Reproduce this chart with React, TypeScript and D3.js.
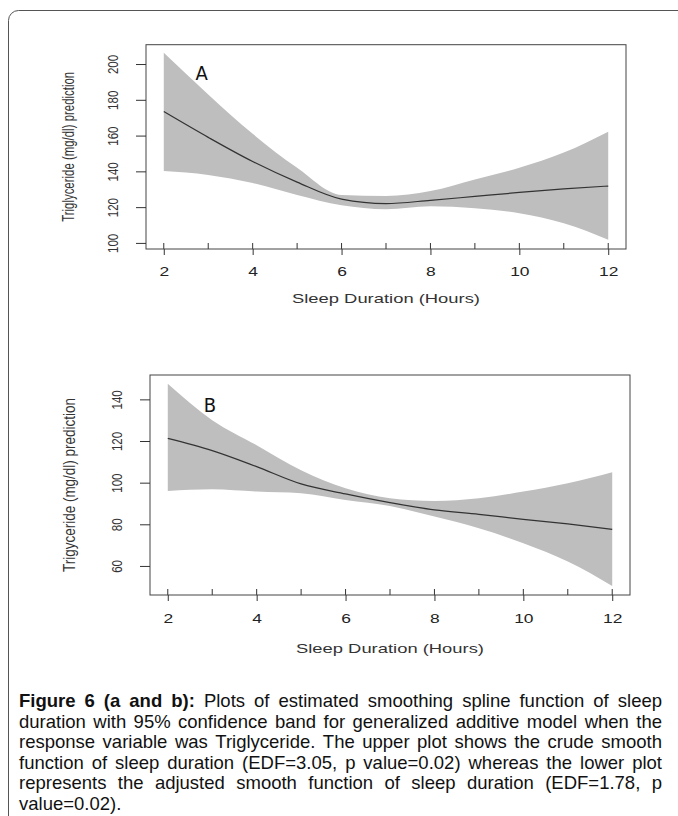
import React, { useEffect, useRef } from "react";
import * as d3 from "d3";

const hours = [2, 3, 4, 5, 6, 7, 8, 9, 10, 11, 12];

// panel A (crude model)
const fitA = [173.4, 159, 145.5, 134, 124.5, 122, 123.8, 126, 128.2, 130.2, 131.8];
const upperA = [206.3, 183, 161, 142, 126.8, 126.2, 129, 135.5, 142, 150.5, 162.2];
const lowerA = [140.2, 138, 133.5, 126.8, 121, 118.8, 120.5, 119.4, 116.6, 111, 101.8];

// panel B (adjusted model)
const fitB = [121.3, 115.4, 107.7, 99.4, 94.6, 90.4, 86.9, 84.8, 82.4, 80.2, 77.6];
const upperB = [147.5, 130, 118, 106, 97.3, 92.5, 91.2, 92.5, 95.7, 99.7, 105];
const lowerB = [96, 96.8, 95.7, 94.9, 91.7, 88.8, 83.7, 78.1, 70.9, 62.1, 50.4];

const xTicks = [2, 4, 6, 8, 10, 12];
const yTicksA = [100, 120, 140, 160, 180, 200];
const yTicksB = [60, 80, 100, 120, 140];

const xTitle = "Sleep Duration (Hours)";
const yTitleA = "Triglyceride (mg/dl) prediction";
const yTitleB = "Trigyceride (mg/dl) prediction";

const captionLines = [
  "Figure 6 (a and b): Plots of estimated smoothing spline function of sleep",
  "duration with 95% confidence band for generalized additive model when the",
  "response variable was Triglyceride. The upper plot shows the crude smooth",
  "function of sleep duration (EDF=3.05, p value=0.02) whereas the lower plot",
  "represents the adjusted smooth function of sleep duration (EDF=1.78, p",
  "value=0.02).",
];
const boldWordCount = 5;

const W = 678;
const H = 816;
const band = "#bebebe";
const ink = "#333";
const sans = "'Liberation Sans', Arial, sans-serif";
const narrow = "'DejaVu Sans Condensed', 'Liberation Sans', sans-serif";
// the plot image in the reference is stretched sideways
const stretch = 1.34;

interface PanelProps {
  id: string;
  box: { left: number; top: number; right: number; bottom: number };
  yDomain: [number, number];
  fit: number[];
  upper: number[];
  lower: number[];
  yTicks: number[];
  yTitle: string;
  yTitleLen: number;
  yTitleX: number;
  letter: string;
  letterAt: [number, number];
  xLabelBase: number;
  xTitleBase: number;
  clipLabels?: number;
}

const Panel: React.FC<PanelProps> = (p) => {
  const ref = useRef<SVGGElement | null>(null);

  useEffect(() => {
    if (!ref.current) return;
    const g = d3.select(ref.current);
    g.selectAll("*").remove();
    const { left, top, right, bottom } = p.box;

    const x = d3.scaleLinear().domain([1.6, 12.4]).range([left, right]);
    const y = d3.scaleLinear().domain(p.yDomain).range([bottom, top]);

    const rows = hours.map((h, i) => ({ h, fit: p.fit[i], lo: p.lower[i], hi: p.upper[i] }));

    const area = d3
      .area<(typeof rows)[number]>()
      .x((d) => x(d.h))
      .y0((d) => y(d.lo))
      .y1((d) => y(d.hi))
      .curve(d3.curveMonotoneX);
    const line = d3
      .line<(typeof rows)[number]>()
      .x((d) => x(d.h))
      .y((d) => y(d.fit))
      .curve(d3.curveMonotoneX);

    g.append("path").attr("d", area(rows)).attr("fill", band);
    g.append("path")
      .attr("d", line(rows))
      .attr("fill", "none")
      .attr("stroke", "#333")
      .attr("stroke-width", 1.2);

    // rug of observed hours
    g.append("g")
      .selectAll("line")
      .data(hours)
      .join("line")
      .attr("x1", (d) => x(d))
      .attr("x2", (d) => x(d))
      .attr("y1", bottom)
      .attr("y2", bottom - 6)
      .attr("stroke", "#333");

    g.append("rect")
      .attr("x", left)
      .attr("y", top)
      .attr("width", right - left)
      .attr("height", bottom - top)
      .attr("fill", "none")
      .attr("stroke", "#444");

    // x axis
    if (p.clipLabels) {
      g.append("clipPath")
        .attr("id", `clip-${p.id}`)
        .append("rect")
        .attr("x", 0)
        .attr("y", 0)
        .attr("width", W)
        .attr("height", p.clipLabels);
    }
    const xa = g
      .append("g")
      .attr("transform", `translate(0,${bottom})`)
      .call(
        d3
          .axisBottom(x)
          .tickValues(xTicks)
          .tickSize(6)
          .tickPadding(p.xLabelBase - bottom - 6 - 9.2)
          .tickFormat(d3.format("d"))
      );
    if (p.clipLabels) xa.attr("clip-path", `url(#clip-${p.id})`);
    xa.select(".domain").remove();
    xa.selectAll("line").attr("stroke", "#333");
    xa.selectAll("text")
      .attr("transform", `scale(${stretch},1)`)
      .attr("fill", "#222")
      .attr("font-family", sans)
      .attr("font-size", 13);

    // y axis, labels parallel to the axis
    const ya = g
      .append("g")
      .attr("transform", `translate(${left},0)`)
      .call(d3.axisLeft(y).tickValues(p.yTicks).tickSize(10).tickFormat(d3.format("d")));
    ya.select(".domain").remove();
    ya.selectAll("line").attr("stroke", "#333");
    ya.selectAll("text")
      .attr("x", null)
      .attr("dy", null)
      .attr("transform", `translate(-28,0) rotate(-90) scale(1,${stretch})`)
      .attr("text-anchor", "middle")
      .attr("fill", ink)
      .attr("font-family", sans)
      .attr("font-size", 11.5);

    g.append("text")
      .attr(
        "transform",
        `translate(${p.yTitleX},${(top + bottom) / 2}) rotate(-90) scale(1,${stretch})`
      )
      .attr("text-anchor", "middle")
      .attr("font-family", sans)
      .attr("font-size", 12)
      .attr("fill", ink)
      .attr("textLength", p.yTitleLen)
      .attr("lengthAdjust", "spacingAndGlyphs")
      .text(p.yTitle);

    g.append("text")
      .attr("x", (left + right) / 2)
      .attr("y", p.xTitleBase)
      .attr("text-anchor", "middle")
      .attr("font-family", sans)
      .attr("font-size", 13.5)
      .attr("fill", ink)
      .attr("textLength", 188)
      .attr("lengthAdjust", "spacingAndGlyphs")
      .text(xTitle);

    g.append("text")
      .attr("x", p.letterAt[0])
      .attr("y", p.letterAt[1])
      .attr("text-anchor", "middle")
      .attr("font-family", narrow)
      .attr("font-size", 20)
      .attr("fill", "#111")
      .text(p.letter);
  }, [p]);

  return <g ref={ref} />;
};

const Caption: React.FC = () => {
  const ref = useRef<SVGGElement | null>(null);

  useEffect(() => {
    if (!ref.current) return;
    const g = d3.select(ref.current);
    g.selectAll("*").remove();
    const left = 19;
    const right = 662;
    const size = 18.5;
    const first = 707;
    const lead = 20.6;

    captionLines.forEach((txt, i) => {
      const words = txt.split(" ");
      const nodes = words.map((w, j) =>
        g
          .append("text")
          .attr("y", first + i * lead)
          .attr("font-family", sans)
          .attr("font-size", size)
          .attr("font-weight", i === 0 && j < boldWordCount ? "bold" : "normal")
          .attr("fill", "#111")
          .text(w)
      );
      const widths = nodes.map((n) => (n.node() as SVGTextElement).getComputedTextLength());
      const last = i === captionLines.length - 1;
      const gap = last
        ? size * 0.278
        : Math.max(size * 0.18, (right - left - d3.sum(widths)) / (words.length - 1));
      let x = left;
      nodes.forEach((n, j) => {
        n.attr("x", x);
        x += widths[j] + gap;
      });
    });
  }, []);

  return <g ref={ref} />;
};

const panelA: PanelProps = {
  id: "a",
  box: { left: 146, top: 44.7, right: 626, bottom: 249 },
  yDomain: [96.6, 210.8],
  fit: fitA,
  upper: upperA,
  lower: lowerA,
  yTicks: yTicksA,
  yTitle: yTitleA,
  yTitleLen: 150,
  yTitleX: 74,
  letter: "A",
  letterAt: [201.7, 80],
  xLabelBase: 276,
  xTitleBase: 303,
  clipLabels: 273.5,
};

const panelB: PanelProps = {
  id: "b",
  box: { left: 150, top: 375, right: 630, bottom: 595 },
  yDomain: [46.05, 151.7],
  fit: fitB,
  upper: upperB,
  lower: lowerB,
  yTicks: yTicksB,
  yTitle: yTitleB,
  yTitleLen: 174,
  yTitleX: 75,
  letter: "B",
  letterAt: [210, 412],
  xLabelBase: 622.5,
  xTitleBase: 653,
};

export default function App() {
  return (
    <div style={{ position: "absolute", left: 0, top: 0 }}>
      <svg width={W} height={H} style={{ display: "block", background: "#fff" }}>
        <rect x={8.5} y={10.5} width={700} height={900} rx={10} fill="none" stroke="#555" />
        <Panel {...panelA} />
        <Panel {...panelB} />
        <Caption />
      </svg>
    </div>
  );
}
